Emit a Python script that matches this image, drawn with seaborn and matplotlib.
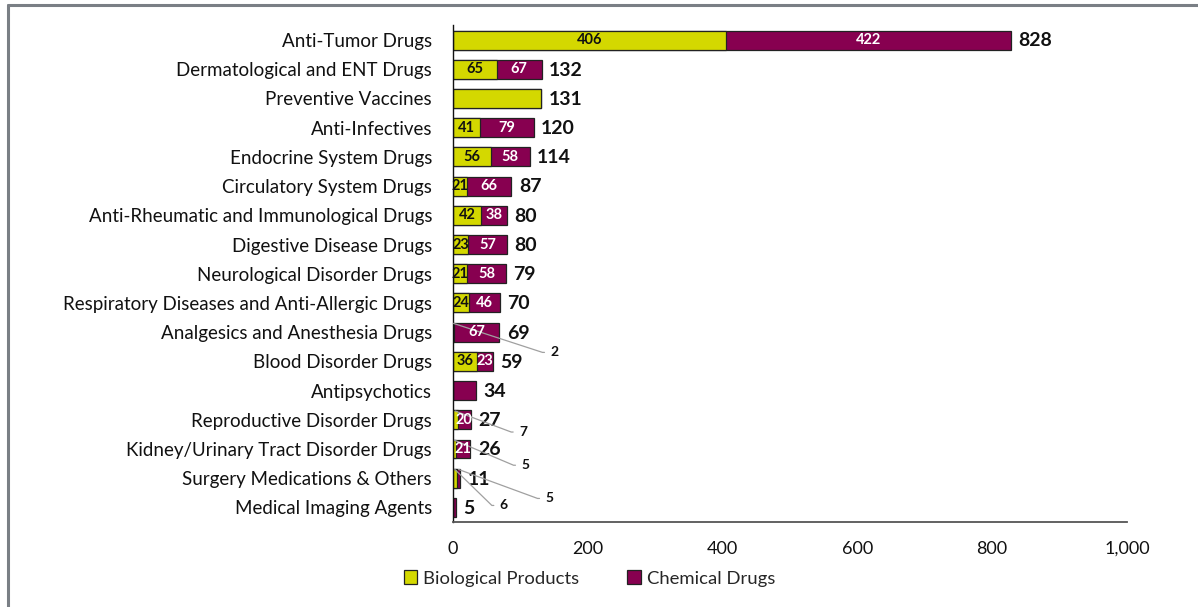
import math
import matplotlib
matplotlib.use("Agg")
import matplotlib.pyplot as plt
from matplotlib.lines import Line2D
from matplotlib.patches import Patch
from matplotlib.ticker import FuncFormatter
import seaborn as sns
import pandas as pd

categories = [
    "Anti-Tumor Drugs",
    "Dermatological and ENT Drugs",
    "Preventive Vaccines",
    "Anti-Infectives",
    "Endocrine System Drugs",
    "Circulatory System Drugs",
    "Anti-Rheumatic and Immunological Drugs",
    "Digestive Disease Drugs",
    "Neurological Disorder Drugs",
    "Respiratory Diseases and Anti-Allergic Drugs",
    "Analgesics and Anesthesia Drugs",
    "Blood Disorder Drugs",
    "Antipsychotics",
    "Reproductive Disorder Drugs",
    "Kidney/Urinary Tract Disorder Drugs",
    "Surgery Medications & Others",
    "Medical Imaging Agents",
]
biological = [406, 65, 131, 41, 56, 21, 42, 23, 21, 24, 2, 36, 0, 7, 5, 6, 0]
chemical = [422, 67, 0, 79, 58, 66, 38, 57, 58, 46, 67, 23, 34, 20, 21, 5, 5]
x_ticks = [0, 200, 400, 600, 800, 1000]
series_names = ["Biological Products", "Chemical Drugs"]

BIO_COLOR = "#d4d800"
CHEM_COLOR = "#870050"
EDGE = "#222222"

totals = [b + c for b, c in zip(biological, chemical)]
df = pd.DataFrame({"category": categories, "bio": biological,
                   "chem": chemical, "total": totals})

sns.set_style("white")
plt.rcParams["font.family"] = ["Lato", "DejaVu Sans"]

fig = plt.figure(figsize=(11.98, 6.07), dpi=100)
ax = fig.add_axes([0.378, 0.14, 0.5626, 0.819])

bar_w = 0.65
# stacked bars: full total in the chemical colour, biological part drawn on top
sns.barplot(data=df, x="total", y="category", orient="h", color=CHEM_COLOR,
            saturation=1, width=bar_w, edgecolor=EDGE, linewidth=0.9, ax=ax)
sns.barplot(data=df, x="bio", y="category", orient="h", color=BIO_COLOR,
            saturation=1, width=bar_w, edgecolor=EDGE, linewidth=0.9, ax=ax)

ax.set_xlim(0, 1000)
ax.set_ylim(len(categories) - 0.5, -0.52)
ax.set_xticks(x_ticks)
ax.xaxis.set_major_formatter(FuncFormatter(lambda v, p: f"{int(v):,}"))
ax.set_xlabel("")
ax.set_ylabel("")

for s in ["top", "right"]:
    ax.spines[s].set_visible(False)
ax.spines["left"].set_color("#111111")
ax.spines["left"].set_linewidth(1.0)
ax.spines["bottom"].set_color("#555555")
ax.spines["bottom"].set_linewidth(1.3)

ax.tick_params(axis="x", direction="inout", length=11, width=1.0,
               color="#555555", labelsize=13, pad=8, labelcolor="#111111")
ax.tick_params(axis="y", length=0, labelsize=13.5, pad=15, labelcolor="#111111")

# label offsets (pixels) for the thin segments that get a leader line
leader_offsets = {
    (10, "bio"): (97, -29),
    (13, "bio"): (64, -21),
    (14, "bio"): (67, -25),
    (15, "bio"): (45, -36),
    (15, "chem"): (87, -29),
}
STUB = 8

for i, (b, c, t) in enumerate(zip(biological, chemical, totals)):
    ax.text(t + 11, i + 0.03, f"{t}", va="center", ha="left", fontsize=14,
            fontweight="bold", color="#111111")
    if b > 0 and c > 0:
        for kind, val, start, col in (("bio", b, 0, "#111111"),
                                      ("chem", c, b, "white")):
            center = start + val / 2
            if val >= 15:
                ax.text(center, i, f"{val}", ha="center", va="center",
                        fontsize=10.5, fontweight="bold", color=col)
            elif (i, kind) in leader_offsets:
                dx, dy = leader_offsets[(i, kind)]
                theta = math.degrees(math.atan2(dy, dx - STUB))
                ax.annotate(f"{val}", xy=(center, i - 0.3), xycoords="data",
                            xytext=(dx, dy), textcoords="offset pixels",
                            ha="left", va="center", fontsize=10,
                            fontweight="bold", color="#111111",
                            arrowprops=dict(arrowstyle="-", color="#a0a0a0",
                                            lw=0.9, shrinkA=2, shrinkB=0,
                                            relpos=(0, 0.5),
                                            connectionstyle=f"angle,angleA=0,angleB={theta:.2f},rad=0"))

handles = [Patch(facecolor=BIO_COLOR, edgecolor=EDGE, linewidth=0.9),
           Patch(facecolor=CHEM_COLOR, edgecolor=EDGE, linewidth=0.9)]
fig.legend(handles, series_names, loc="center left",
           bbox_to_anchor=(0.323, 0.047), ncol=2, frameon=False,
           fontsize=13.3, handlelength=0.75, handleheight=0.75,
           handletextpad=0.3, columnspacing=2.6)

# frame along the top and left edges of the figure
fig.add_artist(Line2D([0.0063, 1.0], [0.991, 0.991], color="#7a7f85",
                      lw=2.2, transform=fig.transFigure))
fig.add_artist(Line2D([0.0063, 0.0063], [0.0, 0.991], color="#7a7f85",
                      lw=2.2, transform=fig.transFigure))

fig.savefig("out.png", dpi=100, facecolor="white")
